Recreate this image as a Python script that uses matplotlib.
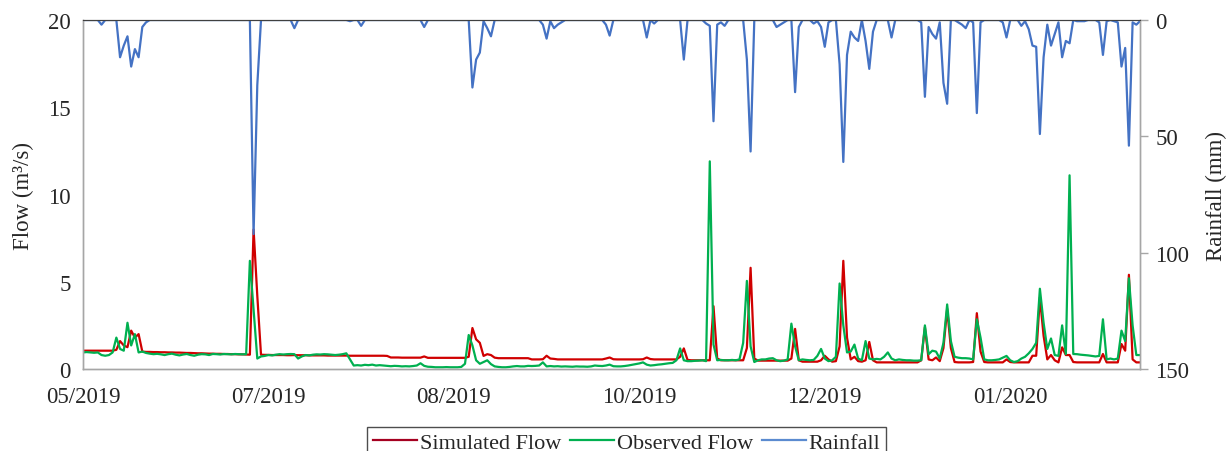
import numpy as np
import pandas as pd
import matplotlib
matplotlib.use("Agg")
import matplotlib.pyplot as plt
from matplotlib.lines import Line2D

plt.rcParams["font.family"] = ["Liberation Serif", "DejaVu Serif"]

# daily series, first day 16/05/2019
start_date = "2019-05-16"
n_days = 286

sim_flow = [
    1.05, 1.05, 1.05, 1.05, 1.05, 1.05, 1.05, 1.05, 1.05, 1.10,
    1.60, 1.35, 1.25, 2.20, 1.80, 2.00, 1.00, 0.98, 0.98, 0.97,
    0.97, 0.96, 0.96, 0.95, 0.95, 0.94, 0.94, 0.93, 0.92, 0.92,
    0.91, 0.90, 0.90, 0.89, 0.88, 0.88, 0.87, 0.87, 0.86, 0.86,
    0.85, 0.85, 0.84, 0.84, 0.83, 0.82, 8.00, 4.20, 0.82, 0.81,
    0.81, 0.80, 0.80, 0.80, 0.80, 0.79, 0.79, 0.80, 0.79, 0.79,
    0.79, 0.78, 0.78, 0.78, 0.78, 0.78, 0.77, 0.77, 0.77, 0.77,
    0.77, 0.77, 0.76, 0.76, 0.76, 0.76, 0.76, 0.76, 0.76, 0.76,
    0.76, 0.76, 0.75, 0.66, 0.66, 0.66, 0.65, 0.65, 0.65, 0.65,
    0.65, 0.65, 0.72, 0.64, 0.64, 0.64, 0.64, 0.64, 0.64, 0.64,
    0.64, 0.64, 0.64, 0.64, 0.70, 2.35, 1.70, 1.50, 0.75, 0.85,
    0.80, 0.65, 0.62, 0.62, 0.62, 0.62, 0.62, 0.62, 0.62, 0.62,
    0.62, 0.55, 0.55, 0.55, 0.56, 0.76, 0.60, 0.58, 0.55, 0.55,
    0.55, 0.55, 0.55, 0.55, 0.55, 0.55, 0.55, 0.55, 0.55, 0.55,
    0.55, 0.60, 0.66, 0.56, 0.55, 0.55, 0.55, 0.55, 0.55, 0.55,
    0.55, 0.56, 0.66, 0.57, 0.55, 0.55, 0.55, 0.55, 0.55, 0.55,
    0.55, 0.70, 1.18, 0.52, 0.50, 0.50, 0.50, 0.50, 0.50, 0.50,
    3.60, 0.60, 0.50, 0.50, 0.50, 0.50, 0.50, 0.50, 0.50, 1.20,
    5.80, 0.60, 0.48, 0.48, 0.48, 0.48, 0.48, 0.48, 0.48, 0.48,
    0.48, 0.60, 2.30, 0.50, 0.42, 0.42, 0.42, 0.42, 0.42, 0.50,
    0.76, 0.55, 0.42, 0.45, 1.30, 6.20, 1.80, 0.55, 0.70, 0.45,
    0.42, 0.50, 1.55, 0.50, 0.38, 0.38, 0.38, 0.38, 0.38, 0.38,
    0.38, 0.38, 0.38, 0.38, 0.38, 0.38, 0.50, 2.40, 0.55, 0.50,
    0.66, 0.45, 1.20, 3.45, 1.20, 0.40, 0.38, 0.38, 0.38, 0.38,
    0.40, 3.20, 1.00, 0.40, 0.38, 0.38, 0.38, 0.38, 0.38, 0.55,
    0.40, 0.38, 0.38, 0.38, 0.38, 0.38, 0.76, 0.76, 4.10, 1.90,
    0.55, 0.80, 0.50, 0.38, 1.24, 0.80, 0.80, 0.40, 0.38, 0.38,
    0.38, 0.38, 0.38, 0.38, 0.38, 0.86, 0.38, 0.38, 0.38, 0.38,
    1.43, 1.05, 5.40, 0.55, 0.38, 0.38,
]

obs_flow = [
    0.95, 0.97, 0.95, 0.93, 0.95, 0.80, 0.76, 0.80, 0.95, 1.80,
    1.15, 1.05, 2.65, 1.35, 2.00, 0.95, 1.00, 0.92, 0.88, 0.85,
    0.87, 0.84, 0.80, 0.85, 0.88, 0.82, 0.78, 0.83, 0.86, 0.80,
    0.76, 0.82, 0.85, 0.84, 0.80, 0.86, 0.85, 0.83, 0.86, 0.85,
    0.84, 0.86, 0.85, 0.84, 0.85, 6.20, 3.40, 0.60, 0.72, 0.75,
    0.80, 0.78, 0.82, 0.85, 0.83, 0.85, 0.86, 0.85, 0.60, 0.72,
    0.80, 0.78, 0.82, 0.84, 0.83, 0.85, 0.84, 0.82, 0.80, 0.82,
    0.85, 0.90, 0.55, 0.20, 0.22, 0.20, 0.24, 0.22, 0.25, 0.20,
    0.22, 0.20, 0.18, 0.16, 0.18, 0.17, 0.15, 0.16, 0.15, 0.17,
    0.20, 0.33, 0.18, 0.13, 0.12, 0.10, 0.10, 0.10, 0.11, 0.10,
    0.10, 0.10, 0.12, 0.30, 1.95, 1.35, 0.50, 0.30, 0.40, 0.50,
    0.28, 0.15, 0.12, 0.10, 0.10, 0.12, 0.15, 0.17, 0.15, 0.15,
    0.18, 0.17, 0.18, 0.20, 0.38, 0.15, 0.17, 0.15, 0.16, 0.14,
    0.15, 0.14, 0.13, 0.15, 0.14, 0.14, 0.13, 0.15, 0.20, 0.18,
    0.17, 0.20, 0.25, 0.16, 0.15, 0.15, 0.17, 0.20, 0.24, 0.28,
    0.32, 0.38, 0.25, 0.20, 0.22, 0.25, 0.27, 0.30, 0.33, 0.35,
    0.50, 1.18, 0.50, 0.45, 0.45, 0.47, 0.48, 0.50, 0.45, 11.90,
    1.40, 0.50, 0.52, 0.50, 0.50, 0.52, 0.50, 0.55, 1.50, 5.05,
    1.30, 0.40, 0.50, 0.55, 0.55, 0.60, 0.62, 0.50, 0.45, 0.48,
    0.55, 2.60, 1.30, 0.50, 0.55, 0.52, 0.50, 0.52, 0.75, 1.15,
    0.60, 0.45, 0.50, 0.70, 4.90, 2.50, 0.95, 1.00, 1.40, 0.60,
    0.50, 1.60, 0.60, 0.55, 0.58, 0.55, 0.70, 0.95, 0.60, 0.50,
    0.55, 0.52, 0.50, 0.50, 0.48, 0.48, 0.50, 2.50, 0.85, 1.05,
    1.00, 0.60, 1.50, 3.70, 1.60, 0.70, 0.65, 0.62, 0.62, 0.60,
    0.55, 2.85, 1.80, 0.55, 0.50, 0.50, 0.52, 0.55, 0.65, 0.75,
    0.50, 0.40, 0.45, 0.60, 0.70, 0.90, 1.15, 1.50, 4.60, 2.65,
    1.15, 1.75, 0.80, 0.75, 2.50, 0.85, 11.10, 0.86, 0.85, 0.82,
    0.80, 0.78, 0.75, 0.72, 0.75, 2.85, 0.55, 0.60, 0.55, 0.60,
    2.20, 1.60, 5.20, 2.50, 0.80, 0.80,
]

# rainfall is zero except on these days (day number from start)
rain_days = [
    5, 10, 11, 12, 13, 14, 15, 16, 17, 46, 47, 57, 72, 75, 92,
    105, 106, 107, 108, 109, 110, 124, 125, 126, 127, 128, 129,
    141, 142, 152, 154, 162, 168, 169, 170, 171, 172, 173, 179, 180,
    187, 188, 189, 192, 193, 197, 198, 199, 200, 201,
    204, 205, 206, 207, 208, 209, 211, 212, 213, 218,
    226, 227, 228, 229, 230, 231, 232, 233, 236, 237, 238, 240, 241, 242,
    248, 249, 253, 254, 255, 256, 257, 258, 259, 260, 261, 262, 263, 264,
    265, 266, 268, 269, 270, 274, 275, 276, 278, 279, 280, 281, 282, 283,
    284, 285,
]
rain_mm = [
    2, 16, 11, 7, 20, 12.5, 16, 3, 1, 92, 28, 3.5, 0.5, 2.5, 3,
    29, 17, 14, 0.5, 3.5, 7, 2, 8, 0.5, 3.5, 2, 1,
    2, 6.7, 7.5, 1.5, 17, 1.5, 2.5, 43.5, 2, 1, 2.5, 17, 56.5,
    3, 2, 1, 31, 3, 1.5, 0.5, 3, 11.5, 1,
    19, 61, 15, 5, 7.5, 9, 9, 21, 5, 7.5,
    1, 33, 3, 6, 8, 1, 27, 36, 1, 2, 3.5, 1, 40, 1,
    1, 7.5, 2.5, 0.5, 4, 11, 11.5, 49, 16, 2, 11, 6, 1, 16,
    9, 10, 0.5, 0.5, 0.5, 1, 15, 0.5, 0.5, 1, 20, 12, 54, 1,
    2, 0.5,
]

dates = pd.date_range(start_date, periods=n_days, freq="D")
rain = np.zeros(n_days)
rain[rain_days] = rain_mm

fig = plt.figure(figsize=(12.31, 4.52), dpi=100)
ax = fig.add_axes([0.0674, 0.1814, 0.8587, 0.7721])
ax2 = ax.twinx()

red, green, blue = "#D00000", "#00B050", "#4472C4"
axis_grey = "#A6A6A6"
text_col = "#262626"

ax.plot(dates, sim_flow, color=red, lw=1.6)
ax.plot(dates, obs_flow, color=green, lw=1.6)
ax2.plot(dates, rain, color=blue, lw=1.6)

ax.set_xlim(dates[0], dates[-1])
ax.set_ylim(0, 20)
ax.set_yticks([0, 5, 10, 15, 20])
ax2.set_ylim(150, 0)
ax2.set_yticks([0, 50, 100, 150])

ax.set_xticks(dates[::50])
ax.set_xticklabels([d.strftime("%m/%Y") for d in dates[::50]])

for a in (ax, ax2):
    for side in ("left", "right", "bottom"):
        a.spines[side].set_color(axis_grey)
        a.spines[side].set_linewidth(1.0)
    a.spines["top"].set_color("#404040")
    a.spines["top"].set_linewidth(0.8)

fs = 16.5
ax.tick_params(axis="x", length=0, pad=12, labelsize=fs, labelcolor=text_col)
ax.tick_params(axis="y", length=0, pad=9, labelsize=fs, labelcolor=text_col)
ax2.tick_params(axis="y", length=6, width=1, color=axis_grey, pad=5,
                labelsize=fs, labelcolor=text_col)

ax.set_ylabel("Flow (m³/s)", fontsize=fs, color=text_col, labelpad=10)
ax2.set_ylabel("Rainfall (mm)", fontsize=fs, color=text_col, labelpad=12)

handles = [
    Line2D([], [], color="#A50021", lw=1.6, label="Simulated Flow"),
    Line2D([], [], color=green, lw=1.6, label="Observed Flow"),
    Line2D([], [], color="#5B8BD0", lw=1.6, label="Rainfall"),
]
leg = fig.legend(handles=handles, loc="upper center", bbox_to_anchor=(0.509, 0.054),
                 ncol=3, frameon=True, fancybox=False, edgecolor="#202020",
                 fontsize=16, handlelength=2.0, handletextpad=0.1,
                 columnspacing=0.4, borderpad=0.25, borderaxespad=0)
leg.get_frame().set_linewidth(1.0)
for t in leg.get_texts():
    t.set_color(text_col)

fig.savefig("out.png", dpi=100)
plt.close(fig)
